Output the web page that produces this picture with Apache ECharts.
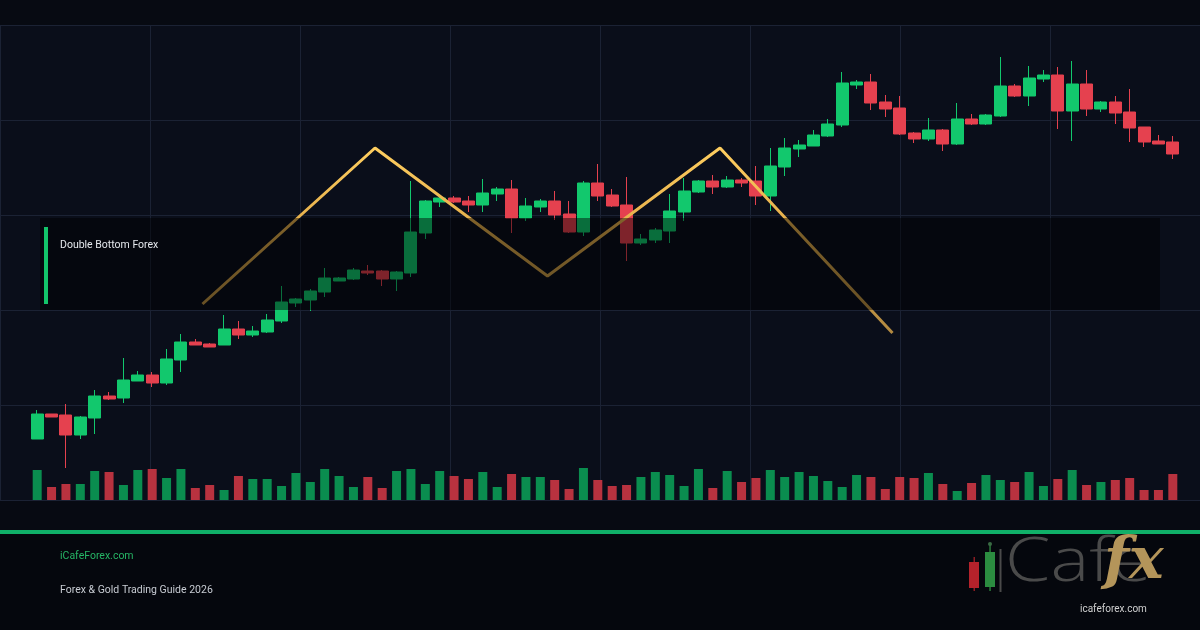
<!DOCTYPE html>
<html>
<head>
<meta charset="utf-8">
<script src="https://cdn.jsdelivr.net/npm/echarts@6/dist/echarts.min.js"></script>
<style>
  html, body { margin: 0; padding: 0; background: #070a12; }
  #chart { width: 1200px; height: 630px; }
</style>
</head>
<body>
<div id="chart"></div>
<script>
// candle prices, one entry per session
var opens = [1961, 1986, 1985, 1965, 1982, 2004, 2002, 2019, 2025, 2017,
  2040, 2058, 2056, 2055, 2071, 2065, 2068, 2079, 2097, 2100,
  2108, 2119, 2121, 2129, 2129, 2121, 2127, 2167, 2198, 2202,
  2199, 2195, 2206, 2211, 2182, 2193, 2199, 2186, 2168, 2217,
  2205, 2195, 2157, 2160, 2169, 2188, 2208, 2219, 2213, 2220,
  2219, 2204, 2233, 2251, 2254, 2264, 2275, 2315, 2318, 2298,
  2292, 2267, 2261, 2270, 2256, 2281, 2276, 2284, 2314, 2304,
  2321, 2325, 2289, 2316, 2291, 2298, 2288, 2273, 2259, 2258]
var closes = [1986, 1983, 1965, 1983, 2004, 2001, 2020, 2025, 2017, 2041,
  2058, 2055, 2053, 2071, 2065, 2069, 2080, 2098, 2101, 2109,
  2122, 2122, 2130, 2127, 2121, 2128, 2168, 2199, 2202, 2198,
  2195, 2207, 2211, 2182, 2194, 2199, 2185, 2168, 2217, 2204,
  2194, 2157, 2161, 2170, 2189, 2209, 2219, 2213, 2220, 2217,
  2204, 2234, 2252, 2255, 2265, 2276, 2317, 2318, 2297, 2291,
  2266, 2261, 2270, 2256, 2281, 2276, 2285, 2314, 2304, 2322,
  2325, 2289, 2316, 2291, 2298, 2287, 2272, 2258, 2256, 2246]
var lows = [1961, 1983, 1932, 1961, 1966, 2000, 1997, 2019, 2013, 2015,
  2028, 2055, 2053, 2055, 2061, 2063, 2067, 2077, 2093, 2089,
  2103, 2119, 2120, 2125, 2114, 2109, 2123, 2161, 2193, 2197,
  2188, 2188, 2199, 2167, 2179, 2188, 2180, 2167, 2164, 2199,
  2193, 2139, 2155, 2157, 2157, 2179, 2207, 2206, 2212, 2213,
  2195, 2189, 2224, 2243, 2254, 2263, 2273, 2311, 2290, 2283,
  2265, 2257, 2259, 2249, 2255, 2275, 2275, 2283, 2303, 2294,
  2318, 2271, 2259, 2284, 2288, 2276, 2258, 2253, 2256, 2241]
var highs = [1990, 1986, 1996, 1984, 2010, 2008, 2042, 2029, 2028, 2051,
  2066, 2061, 2057, 2085, 2079, 2074, 2086, 2114, 2102, 2111,
  2132, 2123, 2132, 2135, 2130, 2129, 2219, 2200, 2203, 2204,
  2204, 2221, 2213, 2220, 2202, 2201, 2209, 2199, 2219, 2236,
  2211, 2223, 2166, 2172, 2206, 2222, 2220, 2225, 2224, 2222,
  2234, 2252, 2262, 2260, 2270, 2281, 2328, 2320, 2326, 2305,
  2304, 2268, 2282, 2271, 2297, 2286, 2286, 2343, 2316, 2334,
  2330, 2333, 2339, 2330, 2299, 2304, 2311, 2273, 2265, 2264]
// volume in thousands of lots
var volumes = [30, 13, 16, 16, 29, 28, 15, 30, 31, 22,
  31, 12, 15, 10, 24, 21, 21, 14, 27, 18,
  31, 24, 13, 23, 12, 29, 31, 16, 29, 24,
  21, 28, 13, 26, 23, 23, 20, 11, 32, 20,
  14, 15, 23, 28, 25, 14, 31, 12, 29, 18,
  22, 30, 23, 28, 24, 19, 13, 25, 23, 11,
  23, 22, 27, 16, 9, 17, 25, 20, 18, 28,
  14, 21, 30, 15, 18, 20, 22, 10, 10, 26]
// pattern pivots (session index, price)
var patternIdx = [11.5, 23.5, 35.5, 47.5, 59.5]
var patternPrice = [2096, 2252, 2124, 2252, 2067]

var categories = opens.map(function (v, i) { return 'S' + (i + 1) })

var UP = '#12c86d'
var DOWN = '#e5414f'
var VOL_UP = '#0a8d4f'
var VOL_DOWN = '#b8323f'
var GRID_LINE = '#1b2234'
var FONT = 'Roboto, "Liberation Sans", sans-serif'

var candleData = opens.map(function (o, i) {
  return [o, closes[i], lows[i], highs[i]]
})
var volumeData = volumes.map(function (v, i) {
  return {
    value: v,
    itemStyle: { color: closes[i] >= opens[i] ? VOL_UP : VOL_DOWN }
  }
})
var patternData = patternIdx.map(function (x, i) {
  return [x, patternPrice[i]]
})

var chart = echarts.init(document.getElementById('chart'))

var hiddenAxis = {
  axisLine: { show: false },
  axisTick: { show: false },
  axisLabel: { show: false },
  splitLine: { show: false }
}

var option = {
  backgroundColor: '#070a12',
  animation: false,
  grid: [
    // background panel with the reference grid
    { left: 0, right: 0, top: 25, bottom: 130, show: true, backgroundColor: '#0a0e1a', borderWidth: 0 },
    // price panel
    { left: 30, right: 20, top: 25, bottom: 130 },
    // volume panel
    { left: 30, right: 20, top: 440, bottom: 130 }
  ],
  xAxis: [
    Object.assign({}, hiddenAxis, {
      type: 'value', gridIndex: 0, min: 0, max: 8, interval: 1,
      splitLine: { show: true, lineStyle: { color: GRID_LINE, width: 1 } }
    }),
    Object.assign({}, hiddenAxis, {
      type: 'category', gridIndex: 1, data: categories, boundaryGap: true
    }),
    Object.assign({}, hiddenAxis, {
      type: 'value', gridIndex: 1, min: -0.5, max: 79.5
    }),
    Object.assign({}, hiddenAxis, {
      type: 'category', gridIndex: 2, data: categories, boundaryGap: true
    })
  ],
  yAxis: [
    Object.assign({}, hiddenAxis, {
      type: 'value', gridIndex: 0, min: 0, max: 5, interval: 1,
      splitLine: { show: true, lineStyle: { color: GRID_LINE, width: 1 } }
    }),
    Object.assign({}, hiddenAxis, {
      type: 'value', gridIndex: 1, min: 1900, max: 2375
    }),
    Object.assign({}, hiddenAxis, {
      type: 'value', gridIndex: 2, min: 0, max: 60
    })
  ],
  series: [
    {
      name: 'Price',
      type: 'candlestick',
      xAxisIndex: 1,
      yAxisIndex: 1,
      data: candleData,
      barWidth: '87%',
      itemStyle: {
        color: UP,
        color0: DOWN,
        borderColor: UP,
        borderColor0: DOWN,
        borderWidth: 1
      },
      z: 3
    },
    {
      name: 'Pattern',
      type: 'line',
      xAxisIndex: 2,
      yAxisIndex: 1,
      data: patternData,
      symbol: 'none',
      lineStyle: {
        width: 3,
        color: new echarts.graphic.LinearGradient(0, 0, 0, 1, [
          { offset: 0, color: '#ffcf60' },
          { offset: 0.4, color: '#e6b04c' },
          { offset: 1, color: '#b08840' }
        ])
      },
      z: 4
    },
    {
      name: 'Volume',
      type: 'bar',
      xAxisIndex: 3,
      yAxisIndex: 2,
      data: volumeData,
      barWidth: 9,
      z: 3
    }
  ],
  graphic: {
    elements: [
      // label panel over the chart
      {
        type: 'rect', z: 100,
        shape: { x: 40, y: 218, width: 1120, height: 92 },
        style: { fill: 'rgba(0,0,0,0.45)' }
      },
      {
        type: 'rect', z: 101,
        shape: { x: 44, y: 227, width: 4, height: 77 },
        style: { fill: '#13c46a' }
      },
      {
        type: 'text', z: 101, x: 60, y: 245,
        style: {
          text: 'Double Bottom Forex', fill: '#e4e7ec',
          font: '10.5px ' + FONT,
          textVerticalAlign: 'middle'
        }
      },
      // footer
      {
        type: 'rect', z: 100,
        shape: { x: 0, y: 534, width: 1200, height: 96 },
        style: { fill: '#05070d' }
      },
      {
        type: 'rect', z: 101,
        shape: { x: 0, y: 530, width: 1200, height: 4 },
        style: { fill: '#10b068' }
      },
      {
        type: 'text', z: 101, x: 60, y: 556,
        style: {
          text: 'iCafeForex.com', fill: '#26b565',
          font: '10.5px ' + FONT,
          textVerticalAlign: 'middle'
        }
      },
      {
        type: 'text', z: 101, x: 60, y: 590,
        style: {
          text: 'Forex & Gold Trading Guide 2026', fill: '#c8ccd3',
          font: '10.5px ' + FONT,
          textVerticalAlign: 'middle'
        }
      },
      // logo
      {
        type: 'rect', z: 101,
        shape: { x: 973.5, y: 557, width: 1.5, height: 34 },
        style: { fill: '#8c1c22' }
      },
      {
        type: 'rect', z: 102,
        shape: { x: 969, y: 562, width: 10, height: 26 },
        style: { fill: '#b5222b' }
      },
      {
        type: 'rect', z: 101,
        shape: { x: 989.3, y: 543, width: 1.5, height: 48 },
        style: { fill: '#2a7a3a' }
      },
      {
        type: 'circle', z: 101,
        shape: { cx: 990, cy: 544, r: 2 },
        style: { fill: '#3a6a44' }
      },
      {
        type: 'rect', z: 102,
        shape: { x: 985, y: 552, width: 10, height: 35 },
        style: { fill: '#2b8c40' }
      },
      {
        type: 'rect', z: 101,
        shape: { x: 999.5, y: 549, width: 2, height: 43 },
        style: { fill: '#4a4a4a' }
      },
      {
        type: 'text', z: 101, x: 1005, y: 594, scaleX: 1.22,
        style: {
          text: 'Cafe', fill: '#4a4a4a',
          font: '300 60px "Open Sans", Lato, sans-serif',
          textVerticalAlign: 'bottom'
        }
      },
      {
        type: 'text', z: 102, x: 1104, y: 592,
        style: {
          text: 'fx', fill: '#b4955a',
          font: 'italic bold 58px "DejaVu Serif", "Liberation Serif", serif',
          textVerticalAlign: 'bottom'
        }
      },
      {
        type: 'text', z: 103, x: 1080, y: 609,
        style: {
          text: 'icafeforex.com', fill: '#d0d0d0',
          font: '10px ' + FONT,
          textVerticalAlign: 'middle'
        }
      }
    ]
  }
}

chart.setOption(option)
</script>
</body>
</html>
